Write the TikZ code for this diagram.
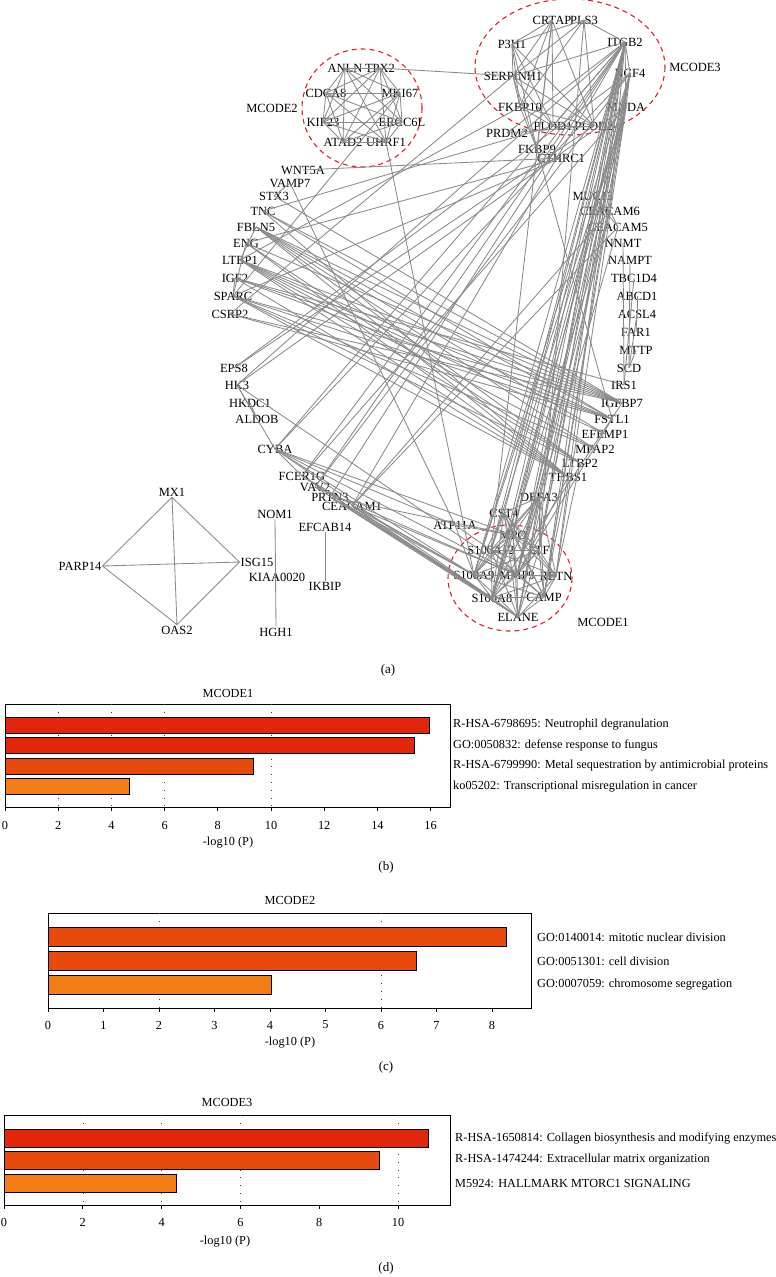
\documentclass[tikz,border=0pt]{standalone}
\usepackage{fontspec}
\setmainfont{Liberation Serif}
\usetikzlibrary{positioning, calc}
\definecolor{edgegray}{HTML}{8A8A8A}
\definecolor{mcodered}{HTML}{D8232A}
\definecolor{barred}{HTML}{E2260B}
\definecolor{barmid}{HTML}{E8490C}
\definecolor{barorange}{HTML}{F57D15}
\tikzset{
  gene/.style={font=\fontsize{12.5}{13}\selectfont, inner sep=1pt}, % gene labels of the network
  ppi/.style={draw=edgegray, line width=0.85pt}, % interaction lines
  cluster/.style={draw=mcodered, line width=1.1pt, dash pattern=on 5pt off 4pt}, % MCODE outline
  frame/.style={draw=black, line width=0.8pt},
  bar/.style={draw=black, line width=0.8pt},
  grid dots/.style={draw=black!75, line width=0.6pt, dash pattern=on 0.8pt off 7pt},
  term/.style={font=\fontsize{12.3}{13}\selectfont, anchor=west, inner sep=0pt},
  tick/.style={font=\fontsize{12.3}{13}\selectfont, inner sep=0pt},
  panel/.style={font=\fontsize{13}{14}\selectfont, inner sep=0pt},
}

\begin{document}
\begin{tikzpicture}[x=1pt, y=-1pt]
  \useasboundingbox (0,0) rectangle (776,1277);

  % ---------- (a) network ----------
  % MCODE2
  \node[gene] (ANLN) at (345,68) {ANLN};
  \node[gene] (TPX2) at (380,68) {TPX2};
  \node[gene] (CDCA8) at (326,93) {CDCA8};
  \node[gene] (MKI67) at (400,93) {MKI67};
  \node[gene] (KIF23) at (323,122) {KIF23};
  \node[gene] (ERCC6L) at (402,122) {ERCC6L};
  \node[gene] (ATAD2) at (343,142) {ATAD2};
  \node[gene] (UHRF1) at (386,142) {UHRF1};
  \node[gene] (lab2) at (272,108) {MCODE2};
  % MCODE3
  \node[gene] (CRTAP) at (552,20) {CRTAP};
  \node[gene] (PLS3) at (584,20) {PLS3};
  \node[gene] (P3H1) at (512,44) {P3H1};
  \node[gene] (ITGB2) at (625,42) {ITGB2};
  \node[gene] (SERPINH1) at (513,76) {SERPINH1};
  \node[gene] (NCF4) at (630,73) {NCF4};
  \node[gene] (FKBP10) at (520,107) {FKBP10};
  \node[gene] (MNDA) at (626,107) {MNDA};
  \node[gene] (PLOD1) at (553,126) {PLOD1};
  \node[gene] (PLOD2) at (594,126) {PLOD2};
  \node[gene] (PRDM2) at (507,133) {PRDM2};
  \node[gene] (FKBP9) at (537,149) {FKBP9};
  \node[gene] (CTHRC1) at (561,158) {CTHRC1};
  \node[gene] (lab3) at (695,67) {MCODE3};
  % left arc
  \node[gene] (WNT5A) at (303,170) {WNT5A};
  \node[gene] (VAMP7) at (290,183) {VAMP7};
  \node[gene] (STX3) at (274,196) {STX3};
  \node[gene] (TNC) at (263,211) {TNC};
  \node[gene] (FBLN5) at (256,227) {FBLN5};
  \node[gene] (ENG) at (246,243) {ENG};
  \node[gene] (LTBP1) at (240,260) {LTBP1};
  \node[gene] (IGF2) at (235,278) {IGF2};
  \node[gene] (SPARC) at (233,296) {SPARC};
  \node[gene] (CSRP2) at (230,314) {CSRP2};
  \node[gene] (EPS8) at (234,368) {EPS8};
  \node[gene] (HK3) at (237,385) {HK3};
  \node[gene] (HKDC1) at (250,403) {HKDC1};
  \node[gene] (ALDOB) at (257,419) {ALDOB};
  \node[gene] (CYBA) at (275,449) {CYBA};
  \node[gene] (FCER1G) at (302,476) {FCER1G};
  \node[gene] (VAV2) at (315,487) {VAV2};
  \node[gene] (PRTN3) at (330,497) {PRTN3};
  \node[gene] (CEACAM1) at (352,506) {CEACAM1};
  % right arc
  \node[gene] (MUC13) at (593,196) {MUC13};
  \node[gene] (CEACAM6) at (610,211) {CEACAM6};
  \node[gene] (CEACAM5) at (618,227) {CEACAM5};
  \node[gene] (NNMT) at (623,243) {NNMT};
  \node[gene] (NAMPT) at (630,260) {NAMPT};
  \node[gene] (TBC1D4) at (634,278) {TBC1D4};
  \node[gene] (ABCD1) at (637,296) {ABCD1};
  \node[gene] (ACSL4) at (637,314) {ACSL4};
  \node[gene] (FAR1) at (636,332) {FAR1};
  \node[gene] (MTTP) at (636,350) {MTTP};
  \node[gene] (SCD) at (629,368) {SCD};
  \node[gene] (IRS1) at (624,385) {IRS1};
  \node[gene] (IGFBP7) at (622,403) {IGFBP7};
  \node[gene] (FSTL1) at (612,419) {FSTL1};
  \node[gene] (EFEMP1) at (605,434) {EFEMP1};
  \node[gene] (MFAP2) at (595,449) {MFAP2};
  \node[gene] (LTBP2) at (580,463) {LTBP2};
  \node[gene] (THBS1) at (568,477) {THBS1};
  % MCODE1
  \node[gene] (DEFA3) at (539,497) {DEFA3};
  \node[gene] (CST4) at (504,513) {CST4};
  \node[gene] (ATP11A) at (455,525) {ATP11A};
  \node[gene] (MPO) at (513,535) {MPO};
  \node[gene] (S100A12) at (491,550) {S100A12};
  \node[gene] (LTF) at (539,550) {LTF};
  \node[gene] (S100A9) at (474,575) {S100A9};
  \node[gene] (MMP9) at (517,575) {MMP9};
  \node[gene] (RETN) at (556,576) {RETN};
  \node[gene] (S100A8) at (492,598) {S100A8};
  \node[gene] (CAMP) at (544,597) {CAMP};
  \node[gene] (ELANE) at (518,617) {ELANE};
  \node[gene] (lab1) at (603,622) {MCODE1};
  % small components
  \node[gene] (MX1) at (172,492) {MX1};
  \node[gene] (PARP14) at (80,566) {PARP14};
  \node[gene] (ISG15) at (257,562) {ISG15};
  \node[gene] (OAS2) at (177,630) {OAS2};
  \node[gene] (NOM1) at (275,514) {NOM1};
  \node[gene] (KIAA0020) at (277,577) {KIAA0020};
  \node[gene] (HGH1) at (276,632) {HGH1};
  \node[gene] (EFCAB14) at (325,527) {EFCAB14};
  \node[gene] (IKBIP) at (325,586) {IKBIP};

  % clusters
  \draw[cluster] (362,108) ellipse (60 and 59);
  \draw[cluster] (570,67) ellipse (95 and 68);
  \draw[cluster] (510,578) ellipse (62 and 53);

  % MCODE2 is a clique
  \foreach \a [count=\i] in {ANLN,TPX2,CDCA8,MKI67,KIF23,ERCC6L,ATAD2,UHRF1}
    \foreach \b [count=\j] in {ANLN,TPX2,CDCA8,MKI67,KIF23,ERCC6L,ATAD2,UHRF1}
      {\ifnum\j>\i \draw[ppi] (\a.center) -- (\b.center); \fi}

  % MCODE1 core, nearly a clique
  \foreach \a [count=\i] in {DEFA3,CST4,MPO,S100A12,LTF,S100A9,MMP9,RETN,S100A8,CAMP,ELANE}
    \foreach \b [count=\j] in {DEFA3,CST4,MPO,S100A12,LTF,S100A9,MMP9,RETN,S100A8,CAMP,ELANE}
      {\ifnum\j>\i \draw[ppi] (\a.center) -- (\b.center); \fi}

  % MCODE3 and collagen genes
  \foreach \a/\b in {CRTAP/P3H1, CRTAP/SERPINH1, CRTAP/FKBP10, CRTAP/PLOD1, CRTAP/PLOD2,
      CRTAP/FKBP9, PLS3/ITGB2, PLS3/SERPINH1, PLS3/P3H1, PLS3/PLOD2, PLS3/FKBP10,
      P3H1/SERPINH1, P3H1/FKBP10, P3H1/PLOD1, P3H1/PLOD2, P3H1/FKBP9,
      SERPINH1/FKBP10, SERPINH1/PLOD1, SERPINH1/PLOD2, SERPINH1/FKBP9,
      FKBP10/PLOD1, FKBP10/PLOD2, FKBP10/FKBP9, PLOD1/PLOD2, PLOD2/PRDM2,
      ITGB2/NCF4, ITGB2/MNDA, NCF4/MNDA, ITGB2/PLOD1, ITGB2/SERPINH1, ITGB2/PRDM2,
      TPX2/SERPINH1, SERPINH1/CSRP2, MKI67/SPARC, UHRF1/S100A9, WNT5A/CTHRC1}
    \draw[ppi] (\a.center) -- (\b.center);

  % neutrophil genes of MCODE3 down to MCODE1
  \foreach \a/\b in {ITGB2/MPO, ITGB2/S100A12, ITGB2/LTF, ITGB2/S100A9, ITGB2/MMP9,
      ITGB2/RETN, ITGB2/S100A8, ITGB2/CAMP, ITGB2/ELANE, ITGB2/DEFA3, ITGB2/CST4,
      ITGB2/CEACAM6, ITGB2/CEACAM1, NCF4/MPO, NCF4/S100A8, NCF4/S100A9, NCF4/MMP9,
      NCF4/ELANE, NCF4/LTF, NCF4/CAMP, NCF4/CYBA, MNDA/S100A12, MNDA/S100A8,
      MNDA/S100A9, MNDA/MMP9, MNDA/LTF, MNDA/RETN, MNDA/CAMP, PLS3/LTF, CRTAP/S100A12}
    \draw[ppi] (\a.center) -- (\b.center);

  % lower left genes
  \foreach \a/\b in {CYBA/S100A9, CYBA/S100A8, CYBA/MMP9, CYBA/MPO, CYBA/ATP11A,
      CYBA/ITGB2, CYBA/FCER1G, FCER1G/S100A8, FCER1G/S100A9, FCER1G/ITGB2,
      FCER1G/MNDA, FCER1G/ELANE, VAV2/ITGB2, VAV2/S100A8, VAV2/MMP9, VAV2/NCF4,
      PRTN3/ELANE, PRTN3/MPO, PRTN3/S100A8, PRTN3/S100A9, PRTN3/ITGB2,
      CEACAM1/S100A8, CEACAM1/CEACAM6, CEACAM1/CEACAM5, CEACAM1/ELANE,
      CEACAM1/S100A9, CEACAM1/MMP9, HK3/ALDOB, HK3/CYBA, HK3/ITGB2, HK3/MNDA,
      HK3/MMP9, HKDC1/ALDOB, EPS8/NCF4, EPS8/PLOD2, ATP11A/MPO, ATP11A/S100A12,
      ATP11A/S100A9, VAMP7/STX3, VAMP7/ATP11A, STX3/IGFBP7}
    \draw[ppi] (\a.center) -- (\b.center);

  % extracellular matrix genes
  \foreach \a/\b in {TNC/THBS1, TNC/FSTL1, TNC/IGFBP7, TNC/PLOD1, FBLN5/EFEMP1,
      FBLN5/MFAP2, FBLN5/LTBP2, FBLN5/FSTL1, FBLN5/IGFBP7, FBLN5/THBS1, FBLN5/LTBP1,
      ENG/IGFBP7, ENG/THBS1, ENG/LTBP2, ENG/SPARC, ENG/CTHRC1, LTBP1/LTBP2,
      LTBP1/MFAP2, LTBP1/FSTL1, LTBP1/IGFBP7, LTBP1/THBS1, LTBP1/EFEMP1,
      LTBP1/FKBP10, IGF2/IGFBP7, IGF2/IRS1, IGF2/FSTL1, IGF2/THBS1, IGF2/SPARC,
      SPARC/THBS1, SPARC/IGFBP7, SPARC/FSTL1, SPARC/MFAP2, SPARC/LTBP2,
      SPARC/CTHRC1, CSRP2/FSTL1, CSRP2/IGFBP7, FKBP9/FSTL1}
    \draw[ppi] (\a.center) -- (\b.center);

  % right arc
  \foreach \a/\b in {MUC13/CEACAM5, MUC13/CEACAM6, CEACAM6/CEACAM5, CEACAM6/MMP9,
      CEACAM5/MMP9, CEACAM6/S100A8, NNMT/IRS1, NAMPT/SCD, TBC1D4/IRS1,
      ABCD1/ACSL4, ACSL4/FAR1, ACSL4/SCD, MTTP/SCD, THBS1/MMP9, THBS1/CAMP,
      LTBP2/RETN, FSTL1/MMP9, IGFBP7/S100A8}
    \draw[ppi] (\a.center) -- (\b.center);

  % small components
  \draw[ppi] (MX1.south) -- (PARP14.east) -- (OAS2.north) -- (ISG15.west) -- (MX1.south)
             (MX1.south) -- (OAS2.north) (PARP14.east) -- (ISG15.west);
  \draw[ppi] (NOM1.south) -- (HGH1.north);
  \draw[ppi] (EFCAB14.south) -- (IKBIP.north);

  \node[panel] (pa) at (388,670) {(a)};

  % ---------- (b) MCODE1 ----------
  \node[tick] (tb) at (228,693) {MCODE1};
  \draw[frame] (5,704) rectangle (450,807);
  \foreach \v in {2,4,6,10} \draw[grid dots] ({5+26.6*\v},704) -- ({5+26.6*\v},807);
  \foreach \v/\y/\c/\t [count=\i] in {15.95/725/barred/{R-HSA-6798695: Neutrophil degranulation},
      15.4/745.5/barred/{GO:0050832: defense response to fungus},
      9.35/766/barmid/{R-HSA-6799990: Metal sequestration by antimicrobial proteins},
      4.67/786.5/barorange/{ko05202: Transcriptional misregulation in cancer}}{
    \filldraw[bar, fill=\c] (5,\y-8) rectangle ({5+26.6*\v},\y+8);
    \node[term] (b\i) at (453,\y) {\t};
  }
  \foreach \v in {0,2,...,16}{
    \draw[frame] ({5+26.6*\v},807) -- ++(0,4);
    \node[tick] (bx\v) at ({5+26.6*\v},825) {\v};
  }
  \node[tick] (lb) at (228,843) {-log10 (P)};
  \node[panel] (pb) at (386,867) {(b)};

  % ---------- (c) MCODE2 ----------
  \node[tick] (tc) at (290,900) {MCODE2};
  \draw[frame] (48,913) rectangle (531,1008);
  \foreach \v in {2,6} \draw[grid dots] ({48+55.5*\v},913) -- ({48+55.5*\v},1008);
  \foreach \v/\y/\c/\t [count=\i] in {8.26/937/barmid/{GO:0140014: mitotic nuclear division},
      6.64/961/barmid/{GO:0051301: cell division},
      4.03/985/barorange/{GO:0007059: chromosome segregation}}{
    \filldraw[bar, fill=\c] (48,\y-9.5) rectangle ({48+55.5*\v},\y+9.5);
    \node[term] (c\i) at (537,\y) {\t};
  }
  \foreach \v in {0,...,8}{
    \draw[frame] ({48+55.5*\v},1008) -- ++(0,4);
    \node[tick] (cx\v) at ({48+55.5*\v},1025) {\v};
  }
  \node[tick] (lc) at (290,1043) {-log10 (P)};
  \node[panel] (pc) at (386,1067) {(c)};

  % ---------- (d) MCODE3 ----------
  \node[tick] (td) at (227,1102) {MCODE3};
  \draw[frame] (4,1115) rectangle (450,1205);
  \foreach \v in {2,4,6,10} \draw[grid dots] ({4+39.4*\v},1115) -- ({4+39.4*\v},1205);
  \foreach \v/\y/\c/\t [count=\i] in {10.78/1138/barred/{R-HSA-1650814: Collagen biosynthesis and modifying enzymes},
      9.52/1160/barmid/{R-HSA-1474244: Extracellular matrix organization},
      4.38/1183/barorange/{M5924: HALLMARK MTORC1 SIGNALING}}{
    \filldraw[bar, fill=\c] (4,\y-9) rectangle ({4+39.4*\v},\y+9);
    \node[term] (d\i) at (455,\y) {\t};
  }
  \foreach \v in {0,2,...,10}{
    \draw[frame] ({4+39.4*\v},1205) -- ++(0,4);
    \node[tick] (dx\v) at ({4+39.4*\v},1222) {\v};
  }
  \node[tick] (ld) at (225,1242) {-log10 (P)};
  \node[panel] (pd) at (386,1268) {(d)};
\end{tikzpicture}
\end{document}
